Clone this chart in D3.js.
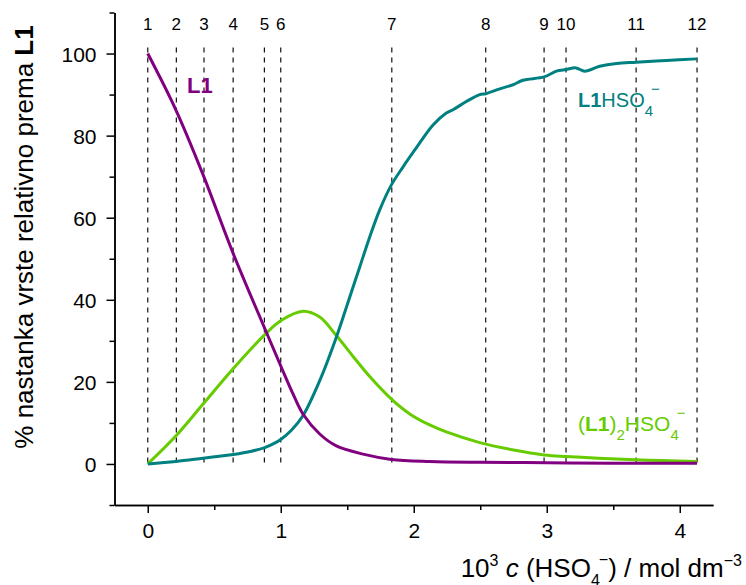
<!DOCTYPE html>
<html><head><meta charset="utf-8">
<script src="https://cdn.jsdelivr.net/npm/d3@7"></script>
<style>
body{margin:0;background:#fff;}
text{font-family:"Liberation Sans",Arial,sans-serif;}
</style></head>
<body>
<svg id="c" width="746" height="585"></svg>
<script>
// ---- data ----
const xTicks = [0, 1, 2, 3, 4];
const xMinor = [0.5, 1.5, 2.5, 3.5];
const yTicks = [0, 20, 40, 60, 80, 100];
const yMinor = [-10, 10, 30, 50, 70, 90, 110];
const pointLabels = ["1","2","3","4","5","6","7","8","9","10","11","12"];
const pointX = [0, 0.215, 0.423, 0.642, 0.877, 1.0, 1.835, 2.541, 2.98, 3.145, 3.672, 4.13];

const l1X = [0, 0.211, 0.412, 0.642, 0.88, 1.005, 1.093, 1.168, 1.293, 1.418, 1.619, 1.832, 2.12, 2.496, 3.0, 3.5, 4.13];
const l1Y = [100, 86.3, 70.8, 51.3, 33, 23.5, 17, 12.1, 7.3, 4.4, 2.4, 1.1, 0.6, 0.4, 0.3, 0.2, 0.2];

const l2X = [0, 0.211, 0.416, 0.642, 0.88, 1.005, 1.168, 1.293, 1.418, 1.544, 1.669, 1.832, 1.97, 2.12, 2.245, 2.496, 2.75, 2.98, 3.145, 3.672, 4.13];
const l2Y = [0, 6.8, 14.6, 23.2, 31.5, 35, 37.2, 35.8, 31.3, 26.2, 21.3, 15.8, 12.2, 9.5, 7.8, 5.2, 3.4, 2.2, 1.8, 1.0, 0.6];

const lhX = [0, 0.211, 0.416, 0.642, 0.78, 0.88, 0.95, 1.005, 1.08, 1.168, 1.293, 1.418, 1.519, 1.594, 1.669, 1.744, 1.832, 1.92, 2.008, 2.145, 2.245, 2.295, 2.395, 2.496, 2.541, 2.647, 2.747, 2.82, 2.98, 3.073, 3.145, 3.22, 3.286, 3.398, 3.524, 3.672, 3.9, 4.13];
const lhY = [0, 0.6, 1.4, 2.3, 3.1, 4.0, 5.0, 6.1, 8.2, 11.8, 20.3, 30.9, 40.7, 48, 55.3, 61.9, 68, 72.4, 76.5, 82.6, 85.5, 86.3, 88.3, 90, 90.2, 91.4, 92.4, 93.5, 94.3, 95.7, 96.1, 96.5, 95.7, 96.9, 97.6, 97.9, 98.3, 98.7];

// ---- drawing ----
const svg = d3.select("#c");
const x = d3.scaleLinear([-0.25, 4.25], [114.5, 713]);
const y = d3.scaleLinear([-10, 110], [505, 12.5]);

const purple = "#800080", teal = "#008080", green = "#66cc00";
const FF = '"Liberation Sans",Arial,sans-serif';

// dashed lines
svg.append("g").selectAll("line").data(pointX).join("line")
  .attr("x1", d => x(d)).attr("x2", d => x(d))
  .attr("y1", y(101.5)).attr("y2", y(0))
  .attr("stroke", "#111").attr("stroke-width", 1.2)
  .attr("stroke-dasharray", "5,5");

svg.append("g").selectAll("text").data(pointLabels).join("text")
  .attr("x", (d, i) => x(pointX[i])).attr("y", 30)
  .attr("text-anchor", "middle").attr("font-size", 17).text(d => d);

// axes
const gx = svg.append("g").attr("transform", `translate(0,${y(-10)})`)
  .call(d3.axisBottom(x).tickValues(xTicks).tickSize(8).tickSizeOuter(0).tickPadding(10).tickFormat(d3.format("d")));
const gxm = svg.append("g").attr("transform", `translate(0,${y(-10)})`)
  .call(d3.axisBottom(x).tickValues(xMinor).tickSize(5).tickSizeOuter(0).tickFormat(""));
const gy = svg.append("g").attr("transform", `translate(${x(-0.25)},0)`)
  .call(d3.axisLeft(y).tickValues(yTicks).tickSize(8).tickSizeOuter(0).tickPadding(10).tickFormat(d3.format("d")));
const gym = svg.append("g").attr("transform", `translate(${x(-0.25)},0)`)
  .call(d3.axisLeft(y).tickValues(yMinor).tickSize(5).tickSizeOuter(0).tickFormat(""));
[gx, gxm, gy, gym].forEach(g => {
  g.selectAll("path,line").attr("stroke", "#000").attr("stroke-width", 1.5);
  g.selectAll("text").attr("font-size", 21).attr("fill", "#000").style("font-family", FF);
});
gy.selectAll("text").attr("dy", "0.36em");

// curves
const line = d3.line().x(d => x(d[0])).y(d => y(d[1])).curve(d3.curveCatmullRom.alpha(0.5));
function series(xs, ys, col) {
  svg.append("path").datum(xs.map((v, i) => [v, ys[i]]))
    .attr("d", line).attr("fill", "none").attr("stroke", col)
    .attr("stroke-width", 3).attr("stroke-linejoin", "round");
}
series(l2X, l2Y, green);
series(lhX, lhY, teal);
series(l1X, l1Y, purple);

// series labels
svg.append("text").attr("x", 187).attr("y", 93).attr("font-size", 22)
  .attr("font-weight", "bold").attr("fill", purple).text("L1");

const t1 = svg.append("text").attr("x", 578).attr("y", 107).attr("font-size", 20).attr("fill", teal);
t1.append("tspan").attr("font-weight", "bold").text("L1");
t1.append("tspan").text("HSO");
t1.append("tspan").attr("font-size", 15).attr("dy", 9).text("4");
t1.append("tspan").attr("font-size", 15).attr("dx", -2).attr("dy", -22).text("\u2212");

const t2 = svg.append("text").attr("x", 578).attr("y", 431).attr("font-size", 21).attr("fill", green);
t2.append("tspan").text("(");
t2.append("tspan").attr("font-weight", "bold").text("L1");
t2.append("tspan").text(")");
t2.append("tspan").attr("font-size", 15).attr("dy", 9).text("2");
t2.append("tspan").attr("dy", -9).text("HSO");
t2.append("tspan").attr("font-size", 15).attr("dy", 9).text("4");
t2.append("tspan").attr("font-size", 15).attr("dx", -2).attr("dy", -22).text("\u2212");

// axis titles
const yt = svg.append("text").attr("transform", "translate(33,237) rotate(-90)")
  .attr("text-anchor", "middle").attr("font-size", 26).attr("fill", "#000");
yt.append("tspan").text("% nastanka vrste relativno prema ");
yt.append("tspan").attr("font-weight", "bold").text("L1");

const xt = svg.append("text").attr("x", 742).attr("y", 577).attr("text-anchor", "end")
  .attr("font-size", 26).attr("fill", "#000");
xt.append("tspan").text("10");
xt.append("tspan").attr("font-size", 16).attr("dy", -11).text("3");
xt.append("tspan").attr("dy", 11).text(" ");
xt.append("tspan").attr("font-style", "italic").text("c");
xt.append("tspan").text(" (HSO");
xt.append("tspan").attr("font-size", 16).attr("dy", 9).text("4");
xt.append("tspan").attr("font-size", 16).attr("dx", -1).attr("dy", -21).text("\u2212");
xt.append("tspan").attr("dy", 12).text(") / mol dm");
xt.append("tspan").attr("font-size", 16).attr("dy", -11).text("\u22123");
</script>
</body></html>
